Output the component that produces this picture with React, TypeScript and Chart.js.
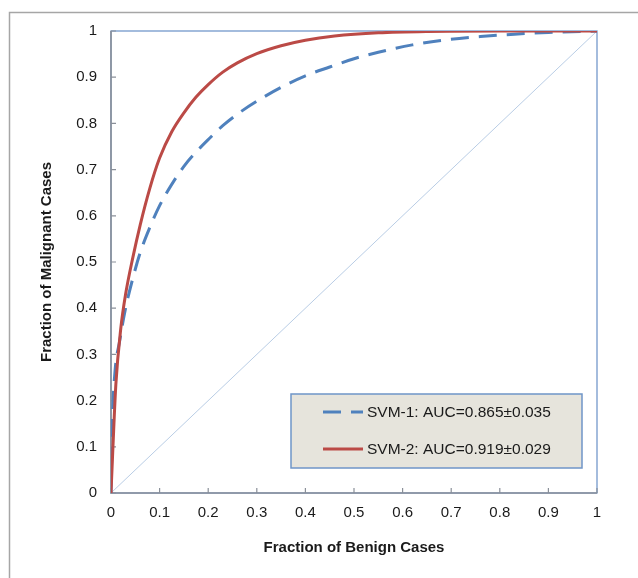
import React, { useEffect, useRef } from 'react';
import { Chart, registerables } from 'chart.js';

Chart.register(...registerables);

// ROC data
const svm1Fpr = [0, 0.003, 0.008, 0.018, 0.03, 0.045, 0.06, 0.08, 0.1, 0.125, 0.15, 0.175, 0.2, 0.23, 0.26, 0.3, 0.35, 0.4, 0.45, 0.5, 0.55, 0.62, 0.69, 0.76, 0.83, 0.9, 1];
const svm1Tpr = [0, 0.16, 0.26, 0.33, 0.4, 0.465, 0.52, 0.575, 0.622, 0.668, 0.707, 0.738, 0.765, 0.795, 0.82, 0.848, 0.878, 0.903, 0.922, 0.94, 0.954, 0.97, 0.981, 0.988, 0.993, 0.997, 1];
const svm2Fpr = [0, 0.004, 0.01, 0.02, 0.03, 0.045, 0.06, 0.08, 0.1, 0.125, 0.15, 0.175, 0.2, 0.23, 0.26, 0.3, 0.35, 0.4, 0.46, 0.55, 0.65, 0.8, 1];
const svm2Tpr = [0, 0.1, 0.235, 0.355, 0.43, 0.51, 0.58, 0.66, 0.725, 0.782, 0.823, 0.857, 0.884, 0.911, 0.931, 0.951, 0.968, 0.98, 0.989, 0.996, 0.999, 1, 1];
const chanceFpr = [0, 1];
const chanceTpr = [0, 1];

const seriesLabels = ['SVM-1: AUC=0.865±0.035', 'SVM-2: AUC=0.919±0.029'];
const tickValues = [0, 0.1, 0.2, 0.3, 0.4, 0.5, 0.6, 0.7, 0.8, 0.9, 1];
const tickLabels = ['0', '0.1', '0.2', '0.3', '0.4', '0.5', '0.6', '0.7', '0.8', '0.9', '1'];
const xTitle = 'Fraction of Benign Cases';
const yTitle = 'Fraction of Malignant Cases';

const FONT = '"Liberation Sans", Arial, sans-serif';
const BLUE = '#4f81bd';
const RED = '#bb4a46';

const framePlugin = {
  id: 'frame',
  beforeDraw(chart: any) {
    const ctx = chart.ctx;
    ctx.save();
    ctx.strokeStyle = '#a6a6a6';
    ctx.lineWidth = 1.5;
    ctx.beginPath();
    ctx.moveTo(9.5, chart.height + 2);
    ctx.lineTo(9.5, 12.5);
    ctx.lineTo(chart.width + 2, 12.5);
    ctx.stroke();
    ctx.restore();
  },
  beforeDatasetsDraw(chart: any) {
    const ctx = chart.ctx;
    const { left, right, top, bottom } = chart.chartArea;
    const xs = chart.scales.x;
    const ys = chart.scales.y;
    ctx.save();
    ctx.strokeStyle = '#7399cb';
    ctx.lineWidth = 1.3;
    ctx.strokeRect(left, top, right - left, bottom - top);
    ctx.strokeStyle = '#8a9099';
    ctx.lineWidth = 1.6;
    ctx.beginPath();
    ctx.moveTo(left, top);
    ctx.lineTo(left, bottom);
    ctx.lineTo(right, bottom);
    ctx.stroke();
    ctx.lineWidth = 1.2;
    ctx.beginPath();
    tickValues.forEach((v) => {
      const px = xs.getPixelForValue(v);
      ctx.moveTo(px, bottom);
      ctx.lineTo(px, bottom - 5);
      const py = ys.getPixelForValue(v);
      ctx.moveTo(left, py);
      ctx.lineTo(left + 5, py);
    });
    ctx.stroke();
    ctx.restore();
  },
  afterDatasetsDraw(chart: any) {
    const ctx = chart.ctx;
    const bx = 291, by = 394, bw = 291, bh = 74;
    ctx.save();
    ctx.fillStyle = '#e6e4dc';
    ctx.fillRect(bx, by, bw, bh);
    ctx.strokeStyle = '#6f95c8';
    ctx.lineWidth = 1.5;
    ctx.strokeRect(bx, by, bw, bh);
    const rows = [412, 449];
    [0, 1].forEach((i) => {
      const ds = chart.data.datasets[i];
      const y = rows[i];
      ctx.strokeStyle = ds.borderColor;
      ctx.lineWidth = ds.borderWidth;
      ctx.setLineDash(ds.borderDash || []);
      ctx.beginPath();
      ctx.moveTo(323, y);
      ctx.lineTo(363, y);
      ctx.stroke();
      ctx.setLineDash([]);
      ctx.fillStyle = '#1a1a1a';
      ctx.font = `15.5px ${FONT}`;
      ctx.textBaseline = 'middle';
      ctx.textAlign = 'left';
      ctx.fillText(ds.label, 367, y + 1);
    });
    ctx.restore();
  },
};

export default function App() {
  const ref = useRef<HTMLCanvasElement>(null);
  useEffect(() => {
    if (!ref.current) return;
    const toPts = (xs: number[], ys: number[]) => xs.map((x, i) => ({ x, y: ys[i] }));
    const tickFont = { family: FONT, size: 15 };
    const titleFont = { family: FONT, size: 15, weight: 'bold' as const };
    const chart = new Chart(ref.current, {
      type: 'line',
      data: {
        datasets: [
          {
            label: seriesLabels[0],
            data: toPts(svm1Fpr, svm1Tpr),
            borderColor: BLUE,
            borderWidth: 3,
            borderDash: [18, 10],
            pointRadius: 0,
            cubicInterpolationMode: 'monotone',
            fill: false,
            order: 2,
          },
          {
            label: seriesLabels[1],
            data: toPts(svm2Fpr, svm2Tpr),
            borderColor: RED,
            borderWidth: 3,
            pointRadius: 0,
            cubicInterpolationMode: 'monotone',
            fill: false,
            order: 1,
          },
          {
            label: 'chance',
            data: toPts(chanceFpr, chanceTpr),
            borderColor: '#b9cde5',
            borderWidth: 1,
            pointRadius: 0,
            fill: false,
            order: 3,
          },
        ],
      },
      options: {
        animation: false,
        responsive: false,
        devicePixelRatio: 1,
        layout: { padding: { top: 31, right: 41, left: 0, bottom: 0 } },
        plugins: { legend: { display: false }, tooltip: { enabled: false } },
        scales: {
          x: {
            type: 'linear',
            min: 0,
            max: 1,
            grid: { display: false, drawTicks: false },
            border: { display: false },
            afterFit: (s: any) => { s.height = 85; },
            afterBuildTicks: (s: any) => { s.ticks = tickValues.map((v) => ({ value: v })); },
            ticks: {
              padding: 11,
              color: '#1a1a1a',
              font: tickFont,
              maxRotation: 0,
              autoSkip: false,
              callback: (_v: any, i: number) => tickLabels[i],
            },
            title: { display: true, text: xTitle, color: '#1a1a1a', font: titleFont, padding: { top: 0, bottom: 21 } },
          },
          y: {
            type: 'linear',
            min: 0,
            max: 1,
            grid: { display: false, drawTicks: false },
            border: { display: false },
            afterFit: (s: any) => { s.width = 111; },
            afterBuildTicks: (s: any) => { s.ticks = tickValues.map((v) => ({ value: v })); },
            ticks: {
              padding: 14,
              color: '#1a1a1a',
              font: tickFont,
              autoSkip: false,
              callback: (_v: any, i: number) => tickLabels[i],
            },
            title: { display: true, text: yTitle, color: '#1a1a1a', font: titleFont, padding: { top: 38, bottom: 0 } },
          },
        },
      },
      plugins: [framePlugin],
    });
    return () => chart.destroy();
  }, []);
  return (
    <div style={{ position: 'absolute', left: 0, top: 0, width: 638, height: 578, background: '#fff' }}>
      <canvas ref={ref} width={638} height={578} style={{ display: 'block' }} />
    </div>
  );
}
